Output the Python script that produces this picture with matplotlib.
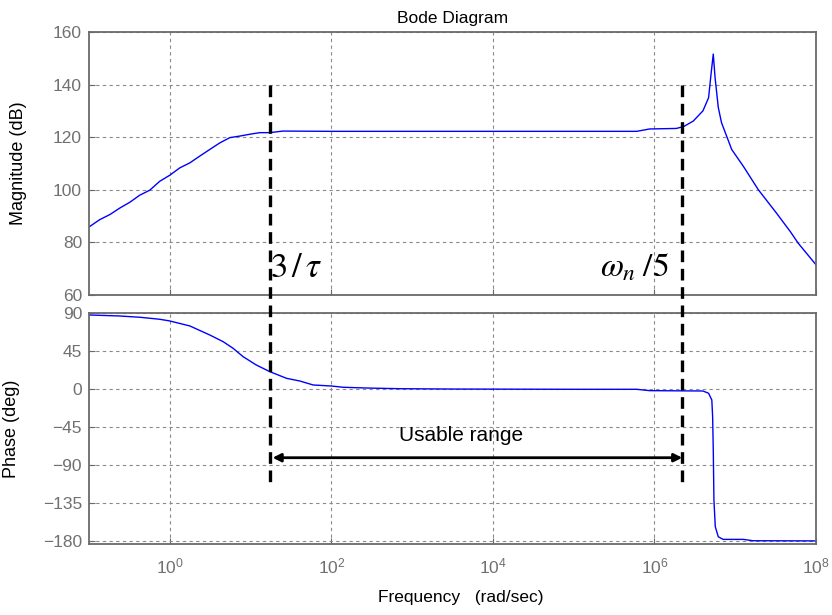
import matplotlib
matplotlib.use("Agg")
import matplotlib.pyplot as plt
from matplotlib.lines import Line2D
import numpy as np

plt.rcParams['font.family'] = ['Liberation Sans', 'DejaVu Sans']

# ---- data ----
mag_exp = [-1.0, -0.867, -0.743, -0.619, -0.495, -0.372, -0.248, -0.124, 0.0, 0.124,
           0.248, 0.372, 0.495, 0.619, 0.743, 0.867, 0.991, 1.115, 1.238, 1.40,
           2.0, 3.0, 4.0, 5.0, 5.78, 5.94, 6.27, 6.36, 6.48, 6.60, 6.67, 6.70,
           6.728, 6.75, 6.79, 6.83, 6.956, 7.10, 7.285, 7.51, 7.68, 7.78, 8.0]
mag_db = [85.9, 88.7, 90.6, 93.1, 95.3, 98.0, 99.9, 103.3, 105.6, 108.4,
          110.3, 112.9, 115.4, 117.9, 119.9, 120.5, 121.2, 121.8, 121.8, 122.4,
          122.3, 122.3, 122.3, 122.3, 122.3, 123.2, 123.4, 124.1, 126.2, 130.1, 135.1, 144.0,
          151.7, 142.8, 131.4, 125.6, 115.4, 109.0, 100.1, 91.2, 84.2, 79.7, 71.5]

ph_exp = [-1.0, -0.62, -0.372, -0.124, 0.0, 0.248, 0.495, 0.66, 0.784, 0.908,
          1.07, 1.238, 1.445, 1.61, 1.775, 2.0, 2.146, 2.44, 2.85, 3.5, 5.0, 5.78,
          5.94, 6.60, 6.67, 6.71, 6.72, 6.728, 6.736, 6.753, 6.79, 6.85, 7.10, 7.22, 8.0]
ph_deg = [88.0, 86.8, 85.3, 82.9, 80.9, 75.0, 64.3, 56.4, 48.5, 38.6,
          28.8, 20.9, 13.0, 9.8, 5.1, 3.9, 2.4, 1.5, 0.7, 0.3, 0.0, 0.0,
          -1.6, -2.0, -4.7, -12.7, -32.5, -71.9, -131.0, -162.7, -174.6, -177.7, -177.7, -179.3, -179.5]

x_ticks = [1e0, 1e2, 1e4, 1e6, 1e8]
x_ticklabels = [r'$\mathregular{10^{0}}$', r'$\mathregular{10^{2}}$', r'$\mathregular{10^{4}}$',
                r'$\mathregular{10^{6}}$', r'$\mathregular{10^{8}}$']
mag_ticks = [60, 80, 100, 120, 140, 160]
ph_ticks = [-180, -135, -90, -45, 0, 45, 90]

lo_exp = 1.238      # 3/tau marker
hi_exp = 6.344      # omega_n/5 marker

# ---- styling ----
grey_txt = '#707070'
grid_kw = dict(color='#8a8a8a', linestyle=(0, (3, 3)), linewidth=0.8)

fig = plt.figure(figsize=(8.32, 6.15), dpi=100)
ax1 = fig.add_axes([0.107, 0.5203, 0.8738, 0.4272])
ax2 = fig.add_axes([0.107, 0.1154, 0.8738, 0.3752])

f_mag = 10 ** np.array(mag_exp)
f_ph = 10 ** np.array(ph_exp)
ax1.semilogx(f_mag, mag_db, color='#0000ff', lw=1.0)
ax2.semilogx(f_ph, ph_deg, color='#0000ff', lw=1.0)

for ax in (ax1, ax2):
    ax.set_xlim(1e-1, 1e8)
    ax.set_xticks(x_ticks)
    ax.minorticks_off()
    ax.grid(True, which='major', **grid_kw)
    for s in ax.spines.values():
        s.set_color('#6a6a6a')
        s.set_linewidth(1.3)
    ax.tick_params(direction='in', length=4, width=0.8, color='#6a6a6a',
                   labelcolor=grey_txt, labelsize=12.5)
    ax.tick_params(axis='y', pad=5)
    ax.tick_params(axis='x', pad=9)

ax1.set_ylim(60, 160)
ax1.set_yticks(mag_ticks)
ax1.set_xticklabels([])
ax2.set_ylim(-183.2, 90)
ax2.set_yticks(ph_ticks)
ax2.set_xticklabels(x_ticklabels)

ax1.set_title('Bode Diagram', fontsize=12.5, pad=7)
ax1.set_ylabel('Magnitude (dB)', fontsize=13)
ax2.set_ylabel('Phase (deg)', fontsize=13)
ax1.yaxis.set_label_coords(-0.085, 0.5)
ax2.yaxis.set_label_coords(-0.095, 0.5)
ax2.set_xlabel('Frequency   (rad/sec)', fontsize=12.5)
ax2.xaxis.set_label_coords(0.512, -0.2)

# vertical dashed marker lines spanning both axes
inv = fig.transFigure.inverted()
for e in (lo_exp, hi_exp):
    p_top = inv.transform(ax1.transData.transform((10 ** e, 140)))
    p_bot = inv.transform(ax2.transData.transform((10 ** e, -114.5)))
    fig.add_artist(Line2D([p_top[0], p_bot[0]], [p_top[1], p_bot[1]],
                          transform=fig.transFigure, color='k', lw=2.4,
                          linestyle=(0, (3.5, 2.0))))

ax1.text(10 ** lo_exp, 67, r'$3\,/\,\tau$', fontsize=25, math_fontfamily='stix',
         ha='left', va='baseline')
ax1.text(10 ** 6.18, 67, r'$\omega_n\;/5$', fontsize=24, math_fontfamily='stix',
         ha='right', va='baseline')

ax2.annotate('', xy=(10 ** hi_exp, -81), xytext=(10 ** lo_exp, -81),
             arrowprops=dict(arrowstyle='<|-|>', lw=2.0, color='k',
                             mutation_scale=12, shrinkA=2, shrinkB=0))
ax2.text(10 ** 3.61, -61.2, 'Usable range', fontsize=15, ha='center', va='baseline')

fig.savefig('out.png', dpi=100)
